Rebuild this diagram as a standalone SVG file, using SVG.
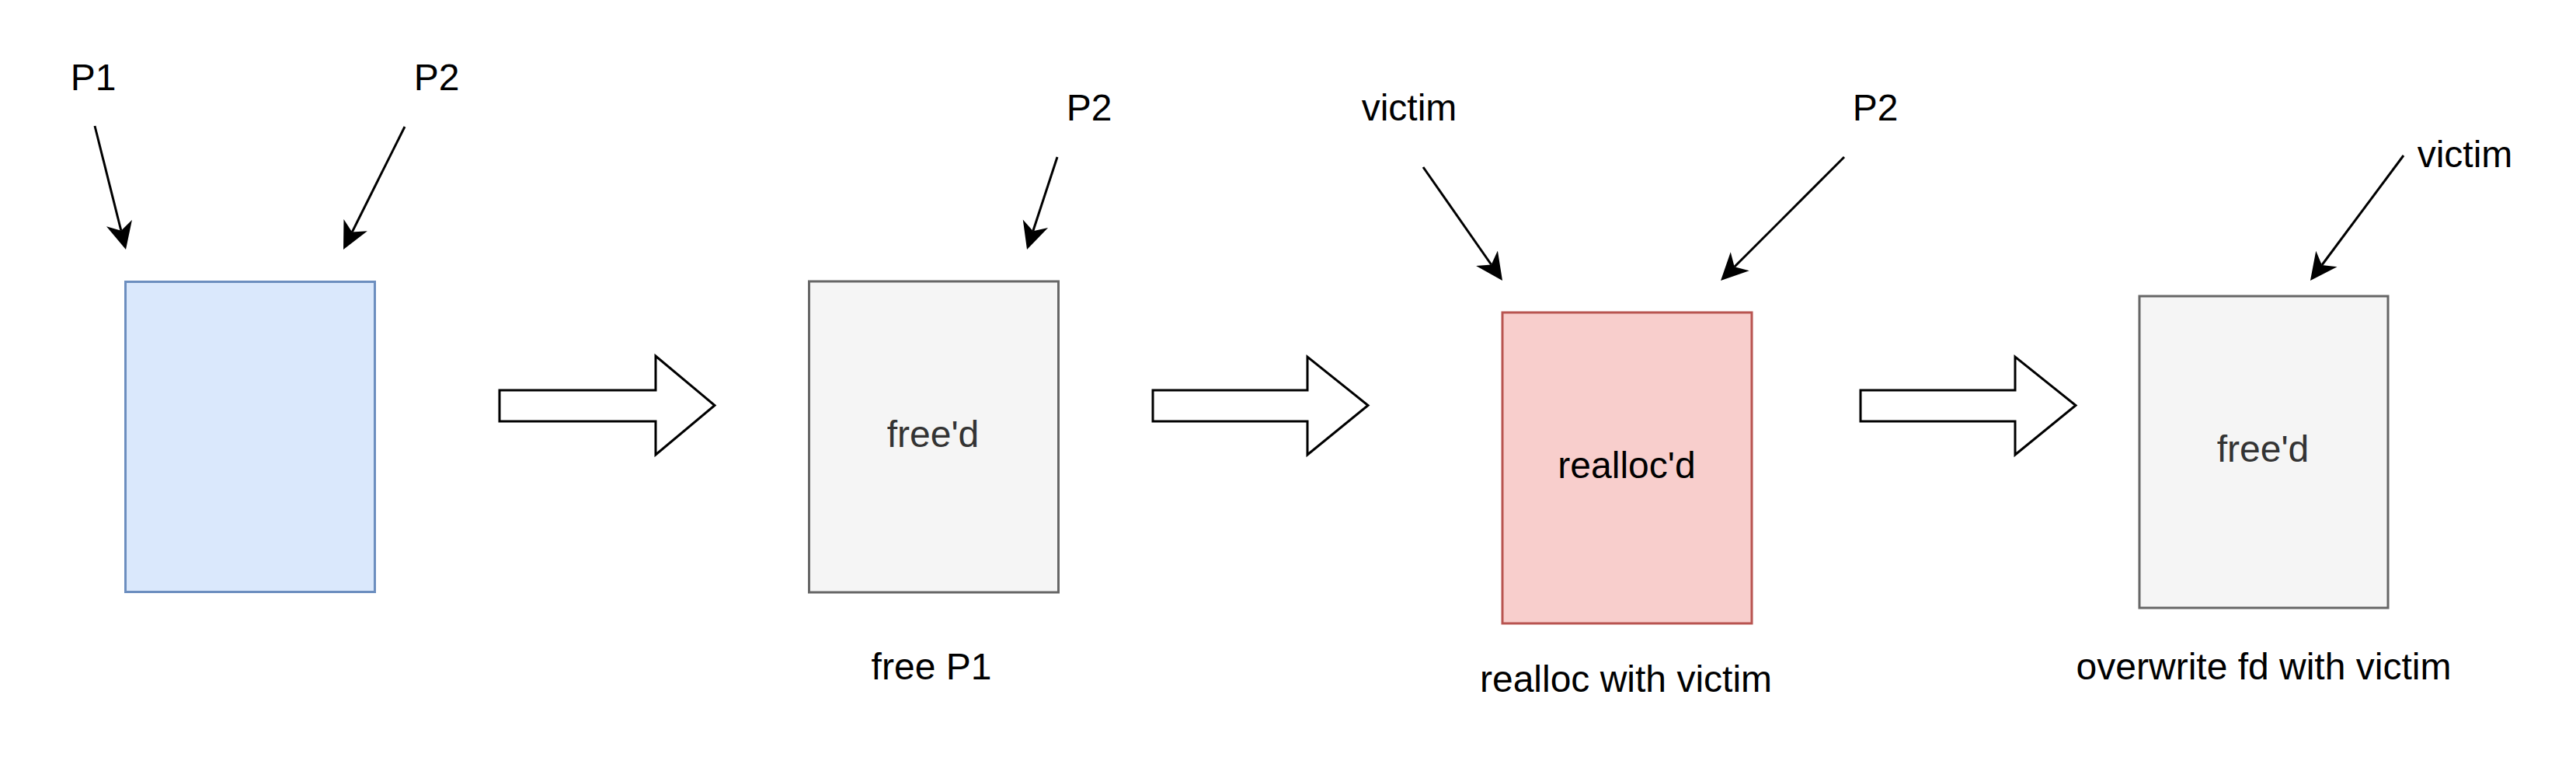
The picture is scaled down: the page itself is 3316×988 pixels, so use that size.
<svg xmlns="http://www.w3.org/2000/svg" width="3316" height="988" viewBox="0 0 3316 988">
<style>
.lbl{font-family:"Liberation Sans",Arial,Helvetica,sans-serif;font-size:48px;fill:#000;text-anchor:middle}
.grey{fill:#333333}
.ptr{stroke:#000;stroke-width:3;fill:none}
.blk{fill:#fff;stroke:#000;stroke-width:3;stroke-linejoin:miter}
.blue{fill:#dae8fc;stroke:#6c8ebf;stroke-width:3}
.gr{fill:#f5f5f5;stroke:#666666;stroke-width:3}
.red{fill:#f8cecc;stroke:#b85450;stroke-width:3}
</style>
<defs>
<marker id="ah" markerUnits="userSpaceOnUse" markerWidth="36" markerHeight="36" viewBox="0 0 36 34" refX="10" refY="17" orient="auto">
<path d="M0,0 L35,17 L0,34 L10,17 Z" fill="#000"/>
</marker>
</defs>
<rect width="3316" height="988" fill="#fff"/>
<g id="chunk1"><rect class="blue" x="161.5" y="362.5" width="321" height="399"/></g>
<g id="chunk2"><rect class="gr" x="1041.5" y="362" width="321" height="400"/><text class="lbl grey" x="1201" y="575">free'd</text></g>
<g id="chunk3"><rect class="red" x="1934" y="402" width="321" height="400"/><text class="lbl" x="2094" y="615">realloc'd</text></g>
<g id="chunk4"><rect class="gr" x="2754" y="381" width="320" height="401"/><text class="lbl grey" x="2913" y="594">free'd</text></g>
<g id="labels">
<text class="lbl" x="120" y="116">P1</text>
<text class="lbl" x="562" y="116">P2</text>
<text class="lbl" x="1402" y="155">P2</text>
<text class="lbl" x="1814" y="155">victim</text>
<text class="lbl" x="2414" y="155">P2</text>
<text class="lbl" x="3173" y="215">victim</text>
<text class="lbl" x="1199" y="874">free P1</text>
<text class="lbl" x="2093" y="890">realloc with victim</text>
<text class="lbl" x="2914" y="874">overwrite fd with victim</text>
</g>
<g id="steps">
<path class="blk" d="M643,502 H844 V458 L920,521.5 L844,585 V542 H643 Z"/>
<path class="blk" d="M1484,502 H1683 V459 L1761,521.5 L1683,585 V542 H1484 Z"/>
<path class="blk" d="M2395,502 H2594 V459 L2672,521.5 L2594,585 V542 H2395 Z"/>
</g>
<g id="connectors">
<line class="ptr" x1="122" y1="162" x2="155.9" y2="296.75" marker-end="url(#ah)"/>
<line class="ptr" x1="521" y1="163" x2="453.2" y2="298.6" marker-end="url(#ah)"/>
<line class="ptr" x1="1361" y1="202" x2="1329.8" y2="297.2" marker-end="url(#ah)"/>
<line class="ptr" x1="1832" y1="215" x2="1919.7" y2="340.5" marker-end="url(#ah)"/>
<line class="ptr" x1="2374" y1="202" x2="2232.7" y2="343.3" marker-end="url(#ah)"/>
<line class="ptr" x1="3094" y1="200" x2="2988.9" y2="341" marker-end="url(#ah)"/>
</g>
</svg>
